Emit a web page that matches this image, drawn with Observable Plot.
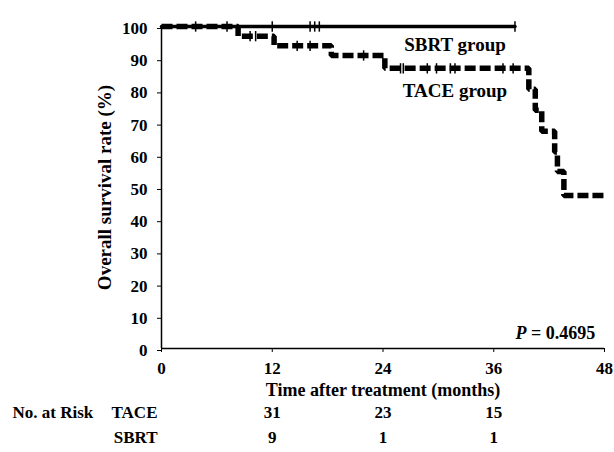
<!DOCTYPE html>
<html>
<head>
<meta charset="utf-8">
<script src="https://cdn.jsdelivr.net/npm/d3@7"></script>
<script src="https://cdn.jsdelivr.net/npm/@observablehq/plot@0.6"></script>
<style>
  html, body { margin: 0; padding: 0; background: white; }
</style>
</head>
<body>
<div id="chart"></div>
<script>
// Step curves (time in months, overall survival %)
const taceTime = [0, 8.3, 12.2, 18.4, 24.2, 39.8, 40.5, 41.2, 42.6, 42.9, 43.6, 48];
const taceSurv = [100, 97, 94, 91, 87, 80.5, 74, 67.5, 61, 55, 47.5, 47.5];
const sbrtTime = [0, 38.3];
const sbrtSurv = [100, 100];

// Censoring marks
const taceCensorTime = [9.6, 10.2, 14.7, 16.1, 21.9, 25.9, 26.2, 28.8, 29.8, 31.3, 31.8, 37.0, 38.1];
const sbrtCensorTime = [3.7, 7.1, 12, 16.1, 16.6, 17.1, 38.3];

// Axis ticks
const xTicks = [0, 12, 24, 36, 48];
const yTicks = [0, 10, 20, 30, 40, 50, 60, 70, 80, 90, 100];

// Number at risk
const riskTimes = [12, 24, 36];
const riskTACE = [31, 23, 15];
const riskSBRT = [9, 1, 1];

// Labels
const groupLabels = ["SBRT group", "TACE group"];
const groupLabelX = [31.8, 31.8];
const groupLabelY = [94.4, 80.1];
const pText = "P = 0.4695";

function survAt(times, surv, t) {
  let s = surv[0];
  for (let i = 0; i < times.length; i++) if (times[i] <= t) s = surv[i];
  return s;
}

const tace = taceTime.map((t, i) => ({t, s: taceSurv[i]}));
const sbrt = sbrtTime.map((t, i) => ({t, s: sbrtSurv[i]}));
const taceCens = taceCensorTime.map(t => ({t, s: survAt(taceTime, taceSurv, t)}));
const sbrtCens = sbrtCensorTime.map(t => ({t, s: 100}));
const risk = riskTimes.map((t, i) => ({t, tace: riskTACE[i], sbrt: riskSBRT[i]}));
const groups = groupLabels.map((g, i) => ({g, x: groupLabelX[i], y: groupLabelY[i]}));

const font = "'Liberation Serif', 'Times New Roman', serif";

const chart = Plot.plot({
  width: 614,
  height: 452,
  marginLeft: 161,
  marginRight: 10,
  marginTop: 26,
  marginBottom: 104,
  style: {fontFamily: font, fontWeight: "bold", fontSize: "17px", color: "black", background: "white", overflow: "visible"},
  x: {domain: [0, 48]},
  y: {domain: [0, 100]},
  marks: [
    Plot.axisX({ticks: xTicks, tickSize: 4, tickPadding: 9, label: null, fontSize: 17}),
    Plot.axisY({ticks: yTicks, tickSize: 4, tickPadding: 10, label: null, fontSize: 17, dy: 2}),
    Plot.ruleX([0], {y1: 0, y2: 100, strokeWidth: 1.5}),
    Plot.ruleY([0], {x1: 0, x2: 48, strokeWidth: 1.5}),
    Plot.line(sbrt, {x: "t", y: "s", curve: "step-after", stroke: "black", strokeWidth: 3.5}),
    Plot.link(sbrtCens, {x1: "t", x2: "t", y1: d => d.s - 1.6, y2: d => d.s + 1.6, stroke: "black", strokeWidth: 1.5}),
    Plot.line(tace, {x: "t", y: "s", curve: "step-after", stroke: "black", strokeWidth: 5.5, strokeDasharray: "11,4", strokeLinecap: "butt", strokeLinejoin: "miter"}),
    Plot.link(taceCens, {x1: "t", x2: "t", y1: d => d.s - 1.6, y2: d => d.s + 1.6, stroke: "black", strokeWidth: 1.5}),
    Plot.text(groups, {x: "x", y: "y", text: "g", fontSize: 19, textAnchor: "middle"}),
    Plot.text([pText], {x: 47.0, y: 4.7, textAnchor: "end", fontSize: 18}),
    Plot.text(["Time after treatment (months)"], {frameAnchor: "bottom", dy: 47, fontSize: 18}),
    Plot.text(["Overall survival rate (%)"], {frameAnchor: "left", dx: -57, rotate: -90, textAnchor: "middle", fontSize: 19}),
    Plot.text(risk, {x: "t", text: "tace", frameAnchor: "bottom", dy: 69, fontSize: 17}),
    Plot.text(risk, {x: "t", text: "sbrt", frameAnchor: "bottom", dy: 94, fontSize: 17}),
    Plot.text(["No. at Risk"], {frameAnchor: "bottom-left", dx: -149, dy: 69, textAnchor: "start", fontSize: 17}),
    Plot.text(["TACE"], {frameAnchor: "bottom-left", dx: -4, dy: 69, textAnchor: "end", fontSize: 17}),
    Plot.text(["SBRT"], {frameAnchor: "bottom-left", dx: -4, dy: 94, textAnchor: "end", fontSize: 17})
  ]
});

// Italicize the P in the p-value label
d3.select(chart).selectAll("text").filter(function() { return this.textContent === pText; })
  .each(function() {
    const el = d3.select(this);
    el.text(null);
    el.append("tspan").attr("font-style", "italic").text("P");
    el.append("tspan").text(" = 0.4695");
  });

document.getElementById("chart").appendChild(chart);
</script>
</body>
</html>
